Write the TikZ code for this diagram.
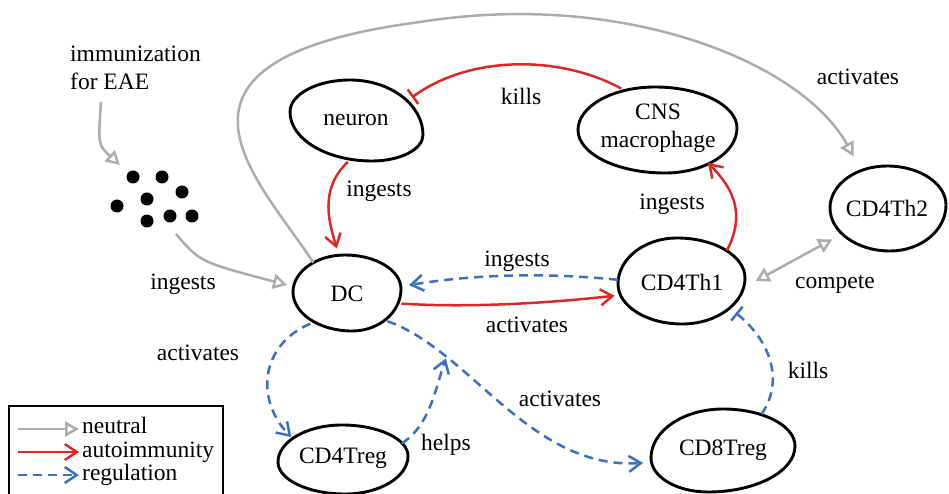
\documentclass[tikz,border=0pt]{standalone}
\usepackage{fontspec}
\setmainfont{Liberation Serif}
\usetikzlibrary{arrows.meta,shapes.geometric}
\definecolor{neutralgray}{RGB}{172,172,172}
\definecolor{autored}{RGB}{222,40,40}
\definecolor{regblue}{RGB}{60,112,192}
% closed smooth outline through its leftmost, top, rightmost and bottom points
\newcommand\cellblob[8]{%
  \draw[outline] (#1,#2) .. controls (#1,{#2+0.552*(#4-#2)}) and ({#3+0.552*(#1-#3)},#4) .. (#3,#4)
    .. controls ({#3+0.552*(#5-#3)},#4) and (#5,{#6+0.552*(#4-#6)}) .. (#5,#6)
    .. controls (#5,{#6+0.552*(#8-#6)}) and ({#7+0.552*(#5-#7)},#8) .. (#7,#8)
    .. controls ({#7+0.552*(#1-#7)},#8) and (#1,{#2+0.552*(#8-#2)}) .. cycle;}
\begin{document}
\begin{tikzpicture}[x=1pt,y=-1pt,
  every node/.style={font=\fontsize{23.5}{28}\selectfont, inner sep=0pt},
  cell/.style={ellipse, align=center},
  outline/.style={line width=2.9pt},
  link/.style={line width=2.5pt},
  neutral/.style={link, neutralgray, -{Triangle[open,length=14pt,width=15pt]}},
  auto/.style={link, autored, -{Straight Barb[length=12pt,width=16pt]}},
  reg/.style={link, regblue, dash pattern=on 9pt off 6pt, -{Straight Barb[length=12pt,width=16pt]}},
  killsred/.style={link, autored, -{Bar[width=18pt]}},
  killsblue/.style={link, regblue, dash pattern=on 9pt off 6pt, -{Bar[width=18pt]}},
  lbl/.style={}
]
\useasboundingbox (0,0) rectangle (949,494);
\clip (0,0) rectangle (949,494);

% cells: named ellipses carry the text, outlines are drawn around them
\node[cell, minimum width=132pt, minimum height=84pt] (neuron) at (356,120) {neuron};
\node[cell, minimum width=160pt, minimum height=88pt] (cns) at (658,128) {CNS\\macrophage};
\node[cell, minimum width=116pt, minimum height=86pt] (th2) at (887,208) {CD4Th2};
\node[cell, minimum width=128pt, minimum height=88pt] (th1) at (682,282) {CD4Th1};
\node[cell, minimum width=112pt, minimum height=78pt] (dc) at (347,294) {DC};
\node[cell, minimum width=130pt, minimum height=68pt] (treg4) at (343,458) {CD4Treg};
\node[cell, minimum width=146pt, minimum height=84pt] (treg8) at (723,450) {CD8Treg};

\cellblob{290}{112}{350}{80}{423}{135}{372}{161}
\cellblob{578}{130}{655}{87}{737}{128}{665}{173}
\cellblob{830}{208}{887}{166}{946}{205}{890}{251}
\cellblob{618}{284}{677}{238}{745}{278}{682}{324}
\cellblob{293}{292}{345}{255}{401}{289}{352}{331}
\cellblob{278}{462}{342}{425}{408}{456}{345}{494}
\cellblob{651}{458}{723}{409}{795}{446}{708}{492}

% immunization and antigen particles
\node[anchor=north west, align=left] (immun) at (70,46) {immunization\\for EAE};
\coordinate (immout) at (101,102);
\foreach \px/\py in {133/177,162/177,182/192,117/206,147/199,147/221,170/216,192/216}
  \fill (\px,\py) circle (6.5pt);
\coordinate (antigen) at (176,234);
\coordinate (antigenin) at (120,165);

% neutral links
\draw[neutral] (immout) .. controls (98,145) .. (antigenin);
\draw[neutral, shorten >=5pt] (antigen) .. controls (200,262) .. (dc.172);
\draw[neutral, shorten >=15pt] (dc.137) .. controls (260,180) and (130,60) .. (420,22)
  .. controls (620,-10) and (800,60) .. (th2.124);
\draw[link, neutralgray, {Triangle[open,length=14pt,width=15pt]}-{Triangle[open,length=14pt,width=15pt]},
  shorten <=11pt, shorten >=10pt] (th1.-4) -- (th2.210);

% autoimmunity links
\draw[killsred] (cns.133) .. controls (560,55) and (470,55) .. (neuron.22);
\draw[auto, shorten >=7pt] (neuron.-101) .. controls (318,190) and (330,225) .. (dc.102);
\draw[auto] (th1.35) .. controls (745,215) and (735,190) .. (cns.-35);
\draw[auto, shorten >=6pt] (dc.-10) .. controls (470,308) and (550,303) .. (th1.192);

% regulation links
\draw[reg, shorten >=7pt] (th1.178) .. controls (540,272) and (470,275) .. (dc.8);
\draw[reg] (dc.219) .. controls (260,345) and (255,400) .. (treg4.158);
\draw[reg, shorten >=10pt] (dc.-34) .. controls (470,350) and (530,470) .. coordinate[pos=0.25] (helpat) (treg8.190);
\draw[reg, shorten >=2pt] (treg4.14) .. controls (430,425) and (435,390) .. (helpat);
\draw[killsblue, shorten >=5pt] (treg8.43) .. controls (782,385) and (775,345) .. (th1.-29);

% link labels
\node[lbl] (lkills1) at (521,96) {kills};
\node[lbl] (ling1) at (379,191) {ingests};
\node[lbl] (ling2) at (672,204) {ingests};
\node[lbl] (lact1) at (858,77) {activates};
\node[lbl] (ling3) at (517,261) {ingests};
\node[lbl] (lact2) at (527,325) {activates};
\node[lbl] (lcomp) at (835,284) {compete};
\node[lbl] (ling4) at (183,284) {ingests};
\node[lbl] (lact3) at (198,353) {activates};
\node[lbl] (lhelps) at (446,445) {helps};
\node[lbl] (lact4) at (560,399) {activates};
\node[lbl] (lkills2) at (808,370) {kills};

% legend
\draw[line width=2pt] (9,406) rectangle (223,502);
\coordinate (k1a) at (18,429); \coordinate (k1b) at (79,429);
\coordinate (k2a) at (18,452); \coordinate (k2b) at (79,452);
\coordinate (k3a) at (18,475); \coordinate (k3b) at (79,475);
\draw[neutral] (k1a) -- (k1b);
\draw[auto] (k2a) -- (k2b);
\draw[reg] (k3a) -- (k3b);
\node[anchor=north west, align=left, font=\fontsize{23.5}{23.5}\selectfont] (keytext) at (82,417)
  {neutral\\autoimmunity\\regulation};
\end{tikzpicture}
\end{document}
